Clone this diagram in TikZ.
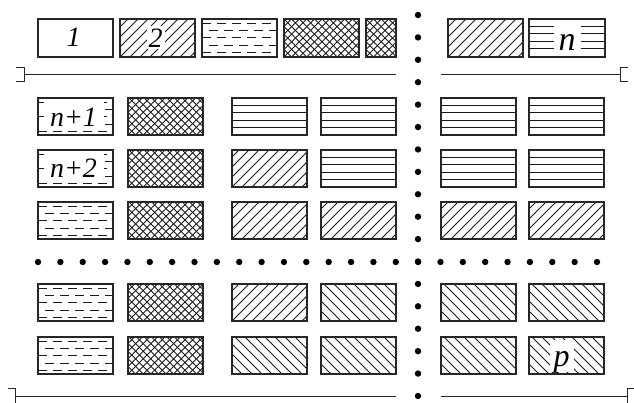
\documentclass[tikz,border=0pt]{standalone}
\usepackage{fontspec}
\setmainfont{Liberation Serif}
\usetikzlibrary{calc}
\tikzset{
  cell/.style={draw=black!85, line width=1.1pt, minimum width=75pt, minimum height=37pt,
    inner sep=0pt, outer sep=0pt, anchor=north west},
  toprow/.style={minimum height=38pt},
  hl/.style={line width=0.9pt, black!90},
  pne/.style={path picture={\foreach \k in {-6,...,12}{\draw[hl] ([xshift=\k*10pt]path picture bounding box.south west) -- ++(45:80pt);}}},
  pnw/.style={path picture={\foreach \k in {0,...,17}{\draw[hl] ([xshift=\k*10pt]path picture bounding box.south west) -- ++(135:80pt);}}},
  pcross/.style={path picture={\foreach \k in {-7,...,17}{\draw[hl] ([xshift=\k*7.6pt]path picture bounding box.south west) -- ++(45:80pt); \draw[hl] ([xshift=\k*7.6pt]path picture bounding box.south west) -- ++(135:80pt);}}},
  phor/.style={path picture={\foreach \k in {1,...,5}{\draw[hl] ([yshift=-\k*7.4pt]path picture bounding box.north west) -- ([yshift=-\k*7.4pt]path picture bounding box.north east);}}},
  pdash/.style={path picture={\foreach \y/\p in {4.5/0,11.7/8,18.9/0,26.1/8,33.3/0}{\draw[hl, dash pattern=on 9pt off 6pt, dash phase=\p pt] ([yshift=-\y pt]path picture bounding box.north west) -- ([yshift=-\y pt]path picture bounding box.north east);}}},
  lab/.style={inner sep=0pt, anchor=base, font=\itshape\fontsize{28}{30}\selectfont},
  blank/.style={fill=white},
  rule/.style={line width=1pt, black!85},
  dot/.style={fill=black}
}
\begin{document}
\begin{tikzpicture}[x=1pt,y=-1pt]
\useasboundingbox (0,0) rectangle (634,403);
% top row
\node[cell,toprow] (b1) at (38,19) {};
\node[cell,toprow,pne] (b2) at (120,19) {};
\node[cell,toprow,pdash] (b3) at (202,19) {};
\node[cell,toprow,pcross] (b4) at (284,19) {};
\node[cell,toprow,pcross,minimum width=30pt] (b5) at (366,19) {};
\node[cell,toprow,pne] (b6) at (448,19) {};
\node[cell,toprow,phor,minimum width=76pt] (b7) at (529,19) {};
% row 1
\node[cell,pdash]  (r1c1) at (38,98) {};
\node[cell,pcross] (r1c2) at (128,98) {};
\node[cell,phor]   (r1c3) at (232,98) {};
\node[cell,phor]   (r1c4) at (321,98) {};
\node[cell,phor]   (r1c5) at (441,98) {};
\node[cell,phor]   (r1c6) at (529,98) {};
% row 2
\node[cell,pdash]  (r2c1) at (38,150) {};
\node[cell,pcross] (r2c2) at (128,150) {};
\node[cell,pne]    (r2c3) at (232,150) {};
\node[cell,phor]   (r2c4) at (321,150) {};
\node[cell,phor]   (r2c5) at (441,150) {};
\node[cell,phor]   (r2c6) at (529,150) {};
% row 3
\node[cell,pdash]  (r3c1) at (38,202) {};
\node[cell,pcross] (r3c2) at (128,202) {};
\node[cell,pne]    (r3c3) at (232,202) {};
\node[cell,pne]    (r3c4) at (321,202) {};
\node[cell,pne]    (r3c5) at (441,202) {};
\node[cell,pne]    (r3c6) at (529,202) {};
% row 4
\node[cell,pdash]  (r4c1) at (38,284) {};
\node[cell,pcross] (r4c2) at (128,284) {};
\node[cell,pne]    (r4c3) at (232,284) {};
\node[cell,pnw]    (r4c4) at (321,284) {};
\node[cell,pnw]    (r4c5) at (441,284) {};
\node[cell,pnw]    (r4c6) at (529,284) {};
% row 5
\node[cell,pdash]  (r5c1) at (38,337) {};
\node[cell,pcross] (r5c2) at (128,337) {};
\node[cell,pnw]    (r5c3) at (232,337) {};
\node[cell,pnw]    (r5c4) at (321,337) {};
\node[cell,pnw]    (r5c5) at (441,337) {};
\node[cell,pnw]    (r5c6) at (529,337) {};
% labels
\node[lab] (t1) at ($(b1.north)+(-2,28)$) {1};
\node[lab,blank,inner xsep=2pt,text height=21pt,text depth=2pt] (t2) at ($(b2.north)+(-2,28.5)$) {2};
\node[lab,blank,inner xsep=5pt,text height=24pt,text depth=5pt,font=\itshape\fontsize{34}{36}\selectfont] (tn) at ($(b7.north)+(0,31.5)$) {n};
\node[lab,blank,minimum width=60pt,text height=26pt,text depth=4pt] (tn1) at ($(r1c1.north)+(-2,29)$) {n+1};
\node[lab,blank,minimum width=60pt,text height=26pt,text depth=4pt] (tn2) at ($(r2c1.north)+(-2,28)$) {n+2};
\node[lab,blank,inner xsep=4pt,text height=26pt,text depth=6pt,font=\itshape\fontsize{32}{34}\selectfont] (tp) at ($(r5c6.north)+(-5,29)$) {p};
% rules with brackets
\draw[rule] (16,68) -- (24,68) -- (24,82) -- (16,82);
\draw[rule] (24,75) -- (396,75);
\draw[rule] (441,75) -- (620,75);
\draw[rule] (628,68) -- (620,68) -- (620,82) -- (628,82);
\draw[rule] (8,388) -- (15,388) -- (15,404);
\draw[rule] (15,396) -- (396,396);
\draw[rule] (441,396) -- (627,396);
\draw[rule] (634,388) -- (627,388) -- (627,404);
% dots
\foreach \k in {0,...,17} \fill[dot] (418,{15+22.41*\k}) circle (3.2pt);
\foreach \k in {0,...,25} \fill[dot] ({38+22.36*\k},262) circle (3.2pt);
\end{tikzpicture}
\end{document}
